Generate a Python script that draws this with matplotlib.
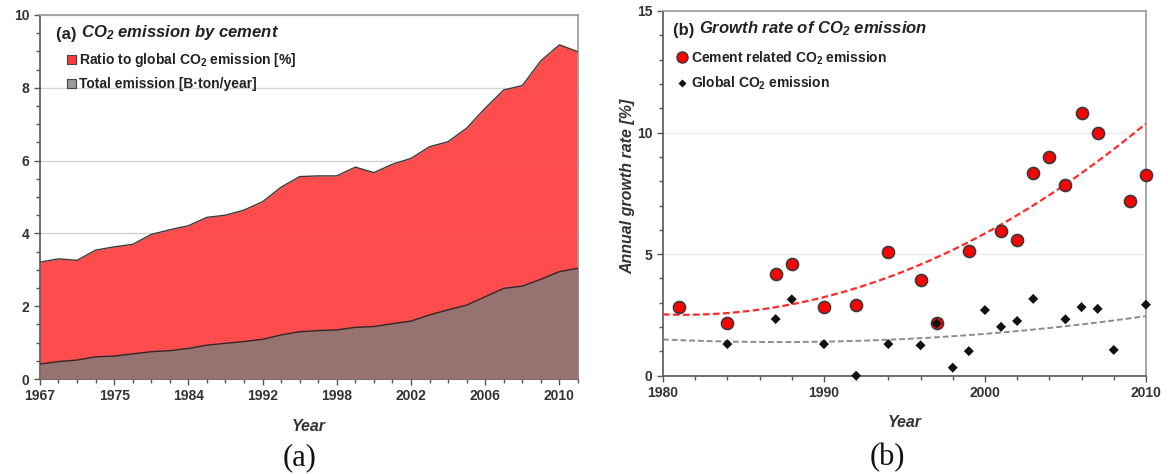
import numpy as np
import matplotlib
matplotlib.use("Agg")
import matplotlib.pyplot as plt
from matplotlib.patches import Patch
from matplotlib.lines import Line2D
from matplotlib.ticker import MultipleLocator, FixedLocator

plt.rcParams['font.family'] = ['Liberation Sans', 'DejaVu Sans']
plt.rcParams['mathtext.default'] = 'regular'

# (a) cement CO2 - category axis, one entry per data year
years_a = [1967, 1969, 1971, 1973, 1975, 1977, 1979, 1981, 1984, 1986,
           1988, 1990, 1992, 1994, 1995, 1996, 1998, 1999, 2000, 2001,
           2002, 2003, 2004, 2005, 2006, 2007, 2008, 2009, 2010, 2011]
ratio_pct = [3.21, 3.30, 3.26, 3.54, 3.63, 3.70, 3.97, 4.10, 4.21, 4.44,
             4.50, 4.64, 4.87, 5.27, 5.56, 5.58, 5.58, 5.82, 5.67, 5.90,
             6.06, 6.38, 6.52, 6.89, 7.44, 7.94, 8.06, 8.74, 9.18, 8.99]
total_bt = [0.41, 0.48, 0.52, 0.61, 0.63, 0.69, 0.75, 0.78, 0.84, 0.93,
            0.98, 1.03, 1.09, 1.21, 1.30, 1.33, 1.35, 1.42, 1.44, 1.52,
            1.59, 1.76, 1.90, 2.03, 2.26, 2.49, 2.55, 2.74, 2.95, 3.04]

# (b) annual growth rates [%]
cem_years = [1981, 1984, 1987, 1988, 1990, 1992, 1994, 1996, 1997, 1999,
             2001, 2002, 2003, 2004, 2005, 2006, 2007, 2009, 2010]
cem_rate = [2.81, 2.16, 4.18, 4.61, 2.83, 2.90, 5.07, 3.93, 2.15, 5.13,
            5.94, 5.60, 8.35, 9.00, 7.86, 10.80, 10.00, 7.17, 8.27]
glob_years = [1984, 1987, 1988, 1990, 1992, 1994, 1996, 1997, 1998, 1999,
              2000, 2001, 2002, 2003, 2005, 2006, 2007, 2008, 2010]
glob_rate = [1.30, 2.33, 3.14, 1.30, 0.00, 1.30, 1.25, 2.15, 0.33, 1.01,
             2.70, 2.01, 2.25, 3.16, 2.32, 2.82, 2.75, 1.06, 2.92]

# polynomial trend coefficients (highest power first, x = year - 1980)
cem_trend = [0.00953, -0.0242, 2.52]
glob_trend = [0.00205, -0.0295, 1.49]

tick_col = '#333333'
fig = plt.figure(figsize=(11.68, 4.74), dpi=100)

# ---------------- panel (a) ----------------
ax1 = fig.add_axes([0.0342, 0.2004, 0.4606, 0.768])
idx = np.arange(len(years_a))
ax1.fill_between(idx, 0, ratio_pct, color='#FF3A3A', alpha=0.9, lw=0, zorder=2)
ax1.plot(idx, ratio_pct, color='#3a3a3a', lw=1.0, zorder=3)
ax1.fill_between(idx, 0, total_bt, color='#967370', lw=0, zorder=4)
ax1.plot(idx, total_bt, color='#2a2a2a', lw=1.0, zorder=5)

ax1.set_xlim(0, len(years_a) - 1)
ax1.set_ylim(0, 10)
ax1.yaxis.set_major_locator(MultipleLocator(2))
ax1.yaxis.set_minor_locator(MultipleLocator(0.5))
ax1.xaxis.set_major_locator(FixedLocator(idx[::4]))
ax1.xaxis.set_minor_locator(FixedLocator(idx))
ax1.set_xticklabels([str(y) for y in years_a[::4]])
ax1.grid(axis='y', color='#d4d4d4', lw=1.0, zorder=0)
ax1.set_axisbelow(True)

ax1.set_xlabel('Year', fontsize=11.5, fontweight='bold', style='italic', color=tick_col, labelpad=11)

t1 = ax1.text(0.03, 0.935, '(a) ', transform=ax1.transAxes, fontsize=12,
              fontweight='bold', color='#222222', va='baseline')
ax1.annotate('CO$_2$ emission by cement', xy=(1, 0), xycoords=t1, fontsize=12,
             fontweight='bold', style='italic', color='#222222', va='bottom')
h_a = [Patch(facecolor='#FF3A3A', edgecolor='#444444', lw=0.8),
       Patch(facecolor='#a09896', edgecolor='#444444', lw=0.8)]
ax1.legend(h_a, ['Ratio to global CO$_2$ emission [%]', 'Total emission [B\u00b7ton/year]'],
           loc='upper left', bbox_to_anchor=(0.05, 0.9), frameon=False,
           handlelength=0.65, handleheight=0.65, handletextpad=0.25,
           labelspacing=0.55, borderaxespad=0, borderpad=0,
           prop={'weight': 'bold', 'size': 10}, labelcolor='#222222')

# ---------------- panel (b) ----------------
ax2 = fig.add_axes([0.5676, 0.2074, 0.4135, 0.7694])
ax2.scatter(cem_years, cem_rate, s=75, color='#FF0000', edgecolors='#3a3a3a',
            linewidths=1.2, zorder=4, clip_on=False)
ax2.scatter(glob_years, glob_rate, s=26, marker='D', color='#111111',
            edgecolors='none', zorder=5, clip_on=False)

# trend lines
tt = np.linspace(1980, 2010, 200)
ax2.plot(tt, np.polyval(cem_trend, tt - 1980), ls=(0, (3, 1.5)), color='#FF2a2a', lw=1.6, zorder=3)
ax2.plot(tt, np.polyval(glob_trend, tt - 1980), ls=(0, (3, 1.5)), color='#8c8c8c', lw=1.4, zorder=3)

ax2.set_xlim(1980, 2010)
ax2.set_ylim(0, 15)
ax2.xaxis.set_major_locator(MultipleLocator(10))
ax2.xaxis.set_minor_locator(MultipleLocator(2))
ax2.yaxis.set_major_locator(MultipleLocator(5))
ax2.yaxis.set_minor_locator(MultipleLocator(1))
ax2.grid(axis='y', color='#ececec', lw=1.0, zorder=0)
ax2.set_axisbelow(True)
ax2.set_xlabel('Year', fontsize=11.5, fontweight='bold', style='italic', color=tick_col, labelpad=11)
ax2.set_ylabel('Annual growth rate [%]', fontsize=11.5, fontweight='bold', style='italic',
               color=tick_col)
ax2.yaxis.set_label_coords(-0.058, 0.52)

t2 = ax2.text(0.02, 0.935, '(b) ', transform=ax2.transAxes, fontsize=12,
              fontweight='bold', color='#222222', va='baseline')
ax2.annotate('Growth rate of CO$_2$ emission', xy=(1, 0), xycoords=t2, fontsize=12,
             fontweight='bold', style='italic', color='#222222', va='bottom')
h_b = [Line2D([], [], ls='none', marker='o', ms=8, mfc='#FF0000', mec='#3a3a3a', mew=1.0),
       Line2D([], [], ls='none', marker='D', ms=4.5, mfc='#111111', mec='none')]
ax2.legend(h_b, ['Cement related CO$_2$ emission', 'Global CO$_2$ emission'],
           loc='upper left', bbox_to_anchor=(0.03, 0.895), frameon=False,
           handlelength=0.7, handletextpad=0.3, labelspacing=0.6,
           borderaxespad=0, borderpad=0,
           prop={'weight': 'bold', 'size': 10}, labelcolor='#222222')

for ax in (ax1, ax2):
    ax.spines['left'].set_color('#555555')
    ax.spines['bottom'].set_color('#555555')
    ax.spines['top'].set_color('#9a9a9a')
    ax.spines['right'].set_color('#9a9a9a')
    for s in ax.spines.values():
        s.set_linewidth(1.2)
    ax.tick_params(which='both', direction='out', color='#555555')
    ax.tick_params(which='major', length=4, width=1.0, labelsize=10, labelcolor=tick_col)
    ax.tick_params(which='minor', length=3, width=1.0)
    for lab in ax.get_xticklabels() + ax.get_yticklabels():
        lab.set_fontweight('bold')

fig.text(0.2568, 0.018, '(a)', fontsize=22, family=['Liberation Serif', 'DejaVu Serif'], color='#111111', ha='center')
fig.text(0.760, 0.018, '(b)', fontsize=22, family=['Liberation Serif', 'DejaVu Serif'], color='#111111', ha='center')

fig.savefig('out.png', dpi=100)
